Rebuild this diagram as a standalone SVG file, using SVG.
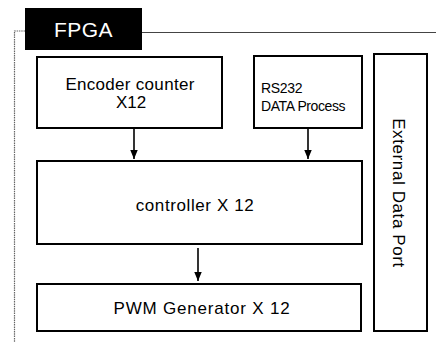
<svg xmlns="http://www.w3.org/2000/svg" width="436" height="348" viewBox="0 0 436 348">
  <defs>
    <marker id="arrowhead" viewBox="0 0 10 12" refX="5" refY="12" markerWidth="7" markerHeight="9" markerUnits="userSpaceOnUse" orient="auto-start-reverse">
      <path d="M0,0 L10,0 L5,12 Z" fill="#000"/>
    </marker>
    <marker id="tip" viewBox="0 0 12 10" refX="12" refY="5" markerWidth="9" markerHeight="7.5" markerUnits="userSpaceOnUse" orient="auto">
      <path d="M0,0 L12,5 L0,10 Z" fill="#000"/>
    </marker>
  </defs>
  <style>
    .box { fill: #fff; stroke: #000; stroke-width: 2; }
    .lbl { font-family: "Liberation Sans", Arial, sans-serif; fill: #000; }
    .frame { fill: none; stroke: #444; stroke-width: 1; }
    .frame-dot { fill: none; stroke: #666; stroke-width: 1.2; stroke-dasharray: 1.5 0.8; }
    .wire { fill: none; stroke: #000; stroke-width: 1.6; marker-end: url(#tip); }
  </style>
  <rect width="436" height="348" fill="#fff"/>

  <!-- FPGA enclosure -->
  <g id="fpga-frame">
    <path class="frame" d="M142,32.5 H436"/>
    <path class="frame-dot" d="M25,31 H14.5 V342"/>
    <rect x="25" y="8" width="117" height="42" fill="#000"/>
    <text class="lbl" x="83.5" y="37" font-size="21" text-anchor="middle" fill="#fff" style="fill:#fff" letter-spacing="0.5">FPGA</text>
  </g>

  <g id="encoder">
    <rect class="box" x="37" y="57" width="185" height="71"/>
    <text class="lbl" x="130" y="90" font-size="17" text-anchor="middle" letter-spacing="0.3">Encoder counter</text>
    <text class="lbl" x="131" y="108" font-size="17" text-anchor="middle">X12</text>
  </g>

  <g id="rs232">
    <rect class="box" x="254" y="56" width="108" height="72"/>
    <text class="lbl" x="261" y="93" font-size="14" letter-spacing="-0.3">RS232</text>
    <text class="lbl" x="261" y="111" font-size="14" letter-spacing="-0.4">DATA Process</text>
  </g>

  <g id="external-port">
    <rect class="box" x="374" y="54" width="53" height="277"/>
    <text class="lbl" transform="translate(393,193) rotate(90)" font-size="17" text-anchor="middle" letter-spacing="0.6">External Data Port</text>
  </g>

  <g id="controller">
    <rect class="box" x="37" y="161" width="325" height="83"/>
    <text class="lbl" x="195" y="211" font-size="17" text-anchor="middle" letter-spacing="0.6">controller X 12</text>
  </g>

  <g id="pwm">
    <rect class="box" x="37" y="284" width="324" height="47"/>
    <text class="lbl" x="202" y="314" font-size="17" text-anchor="middle" letter-spacing="0.8">PWM Generator X 12</text>
  </g>

  <g id="connectors">
    <path class="wire" d="M134,129 V159"/>
    <path class="wire" d="M308,129 V159"/>
    <path class="wire" d="M198,248 V281"/>
  </g>
</svg>
